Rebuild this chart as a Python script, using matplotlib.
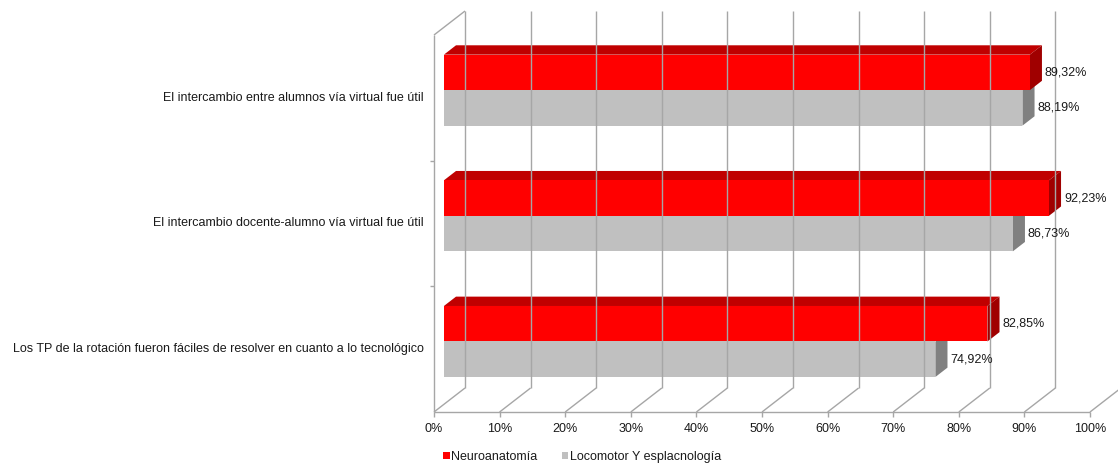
import matplotlib
matplotlib.use("Agg")
import matplotlib.pyplot as plt
from matplotlib.patches import Polygon, Patch

# datos (de arriba hacia abajo)
categorias = [
    "El intercambio entre alumnos vía virtual fue útil",
    "El intercambio docente-alumno vía virtual fue útil",
    "Los TP de la rotación fueron fáciles de resolver en cuanto a lo tecnológico",
]
neuro = [89.32, 92.23, 82.85]
locomotor = [88.19, 86.73, 74.92]
series = ["Neuroanatomía", "Locomotor Y esplacnología"]
xticks = list(range(0, 101, 10))

plt.rcParams["font.family"] = ["Liberation Sans", "DejaVu Sans"]
TXT = "#1a1a1a"
GRID = "#a6a6a6"
FS = 9

W, H = 1118, 468
fig = plt.figure(figsize=(W / 100, H / 100), dpi=100)
ax = fig.add_axes([434 / W, (H - 412) / H, 656 / W, 377 / H])
ncat = len(categorias)
ax.set_xlim(0, 100)
ax.set_ylim(0, ncat)
ax.axis("off")

# escala px -> datos
PX_X = 656 / 100
PX_Y = 377 / ncat
# profundidad de la pared (31 px, 24 px)
DX, DY = 31 / PX_X, 24 / PX_Y
# barras: frente a 1/3 de la profundidad, grosor ~0.39
F0, FD = 0.32, 0.39
h = 35.5 / PX_Y


def line(xs, ys, **kw):
    ax.plot(xs, ys, color=GRID, lw=1, clip_on=False, solid_capstyle="butt", **kw)


# paredes y rejilla
for t in xticks:
    line([t, t + DX], [0, DY])                 # piso
    line([t + DX, t + DX], [DY, ncat + DY])    # pared del fondo
    line([t, t], [0, -5 / PX_Y])               # marca
line([0, 100], [0, 0])
line([0, 0], [0, ncat])
line([0, DX], [ncat, ncat + DY])
for k in range(1, ncat):
    line([-4 / PX_X, 0], [k, k])

for t in xticks:
    ax.text(t, -17 / PX_Y, f"{t}%", ha="center", va="center", fontsize=FS, color=TXT)


def barra(v, y0, front, top, side, show_top=True):
    ox, oy = F0 * DX, F0 * DY
    dx, dy = FD * DX, FD * DY
    x0 = ox
    x1 = v + ox
    yb, yt = y0 + oy, y0 + h + oy
    if show_top:
        ax.add_patch(Polygon([(x0, yt), (x1, yt), (x1 + dx, yt + dy), (x0 + dx, yt + dy)],
                             closed=True, fc=top, ec="none", clip_on=False))
    ax.add_patch(Polygon([(x1, yb), (x1 + dx, yb + dy), (x1 + dx, yt + dy), (x1, yt)],
                         closed=True, fc=side, ec="none", clip_on=False))
    ax.add_patch(Polygon([(x0, yb), (x1, yb), (x1, yt), (x0, yt)],
                         closed=True, fc=front, ec="none", clip_on=False))
    ax.text(x1 + dx + 3 / PX_X, (yb + yt) / 2, f"{v:.2f}%".replace(".", ","),
            ha="left", va="center", fontsize=FS, color=TXT)


for i, cat in enumerate(categorias):
    yc = ncat - (i + 0.5)
    barra(locomotor[i], yc - h, "#c0c0c0", "#a6a6a6", "#808080", show_top=False)
    barra(neuro[i], yc, "#ff0000", "#c00000", "#a00000")
    ax.text(-10 / PX_X, yc, cat, ha="right", va="center", fontsize=FS, color=TXT)

handles = [Patch(fc="#ff0000", ec="none"), Patch(fc="#c0c0c0", ec="none")]
fig.legend(handles, series, loc="center", bbox_to_anchor=(582 / W, 1 - 457 / H),
           ncol=2, frameon=False, fontsize=FS, handlelength=0.5, handleheight=0.5,
           handletextpad=0.1, columnspacing=2.0, labelcolor=TXT)

fig.savefig("out.png", dpi=100)
